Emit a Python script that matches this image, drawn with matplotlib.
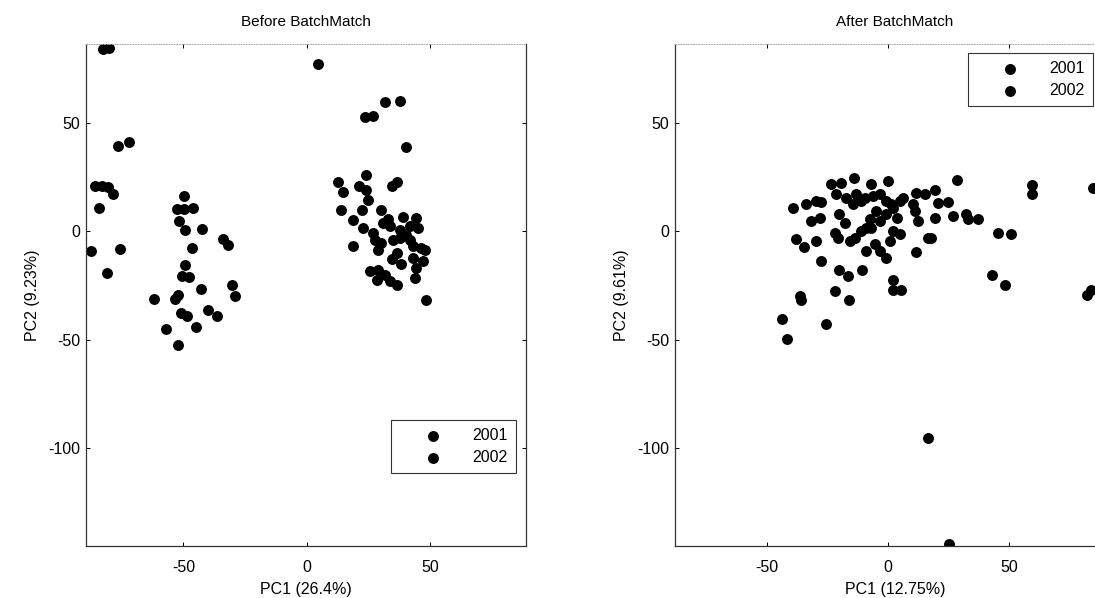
import matplotlib.pyplot as plt

plt.rcParams['font.family'] = ['Liberation Sans', 'DejaVu Sans']
plt.rcParams['axes.unicode_minus'] = False

# Before BatchMatch  (PC1, PC2)
before_2001_x = [-82.7, -80.0, -76.4, -71.9, -85.8, -83.1, -80.4, -78.6, -84.1, -87.6,
                 -75.7, -80.8, -49.7, -52.7, -49.7, -46.0, -51.6, -49.3, -42.3, -34.0,
                 -32.0, -46.4, -49.3, -50.7, -47.6, -42.8, -30.2, -29.1, -61.8, -53.4,
                 -52.0, -51.1, -48.4, -39.9, -36.2, -45.0, -57.2, -52.0]
before_2001_y = [84.0, 84.2, 39.4, 40.9, 20.6, 20.6, 20.4, 17.3, 10.7, -9.3,
                 -8.1, -19.3, 16.4, 10.4, 10.4, 10.7, 4.5, 0.4, 1.0, -3.6,
                 -6.2, -7.7, -15.4, -20.5, -21.1, -26.6, -24.7, -29.7, -31.1, -31.2,
                 -29.3, -37.7, -39.3, -36.2, -39.3, -44.3, -45.1, -52.3]

before_2002_x = [4.7, 32.0, 37.8, 23.6, 27.0, 40.3, 24.3, 12.8, 34.5, 36.5,
                 14.8, 21.3, 24.3, 25.0, 22.3, 13.9, 30.4, 18.9, 22.9, 39.2,
                 44.6, 31.1, 33.8, 37.8, 41.9, 45.2, 27.7, 30.4, 35.1, 37.8,
                 29.0, 36.5, 43.2, 46.6, 47.9, 43.2, 47.3, 18.9, 44.6, 25.7,
                 29.0, 31.7, 28.4, 33.8, 36.5, 43.9, 48.6, 33.0, 40.5, 27.0,
                 38.5, 42.0, 34.5]
before_2002_y = [77.1, 59.4, 59.7, 52.4, 52.9, 38.8, 26.0, 22.7, 21.0, 22.5,
                 18.1, 21.0, 19.1, 14.5, 9.9, 9.6, 9.9, 5.0, 1.5, 6.5,
                 6.1, 3.8, 2.2, 0.7, 2.2, 1.5, -3.9, -5.4, -3.9, -3.1,
                 -8.5, -10.0, -7.0, -7.7, -8.5, -12.4, -13.9, -7.0, -17.0, -18.5,
                 -17.7, -20.0, -22.4, -23.1, -24.7, -21.6, -31.6, 5.5, -2.0, -1.0,
                 -15.0, -4.0, -13.0]

# After BatchMatch
after_2001_x = [-43.6, -41.6, -25.5, -35.8, -16.1, -36.5, -22.0, -27.5, -20.2, -16.5,
                -10.6, -37.9, -34.8, -29.6, -39.3, -33.7, -29.6, -27.5, -31.7, -28.2,
                -22.0, -20.7, -20.2, -17.9, -23.4, -19.3, -14.2, -21.3, -17.2, -13.1,
                -14.5, -11.0, -15.8, -13.8, -11.0, -8.9, -9.6, -7.1]
after_2001_y = [-40.3, -49.5, -42.6, -31.5, -31.5, -29.7, -27.7, -13.8, -18.1, -20.8,
                -17.7, -3.4, -7.4, -4.6, 10.5, 12.3, 13.8, 13.5, 4.6, 5.9,
                -0.8, -3.1, 7.7, 3.8, 21.8, 22.3, 24.6, 16.9, 15.4, 16.9,
                12.3, 13.8, -4.6, -3.1, 0.0, -9.2, 15.4, 21.8]

after_2002_x = [2.1, 5.5, 2.1, 0.0, -6.2, -3.4, -0.7, 2.1, -4.8, -7.6,
                -6.9, -3.4, -5.5, -3.4, -0.7, 2.1, 4.8, 0.7, 3.5, -0.7,
                1.4, 4.8, 6.2, 11.7, 15.2, 10.3, 11.0, 12.4, 11.4, 16.5,
                28.5, 19.3, 20.7, 24.8, 19.3, 26.9, 32.4, 33.1, 37.2, 17.9,
                45.5, 50.7, 43.1, 48.2, 59.5, 59.5, 84.6, 82.0, 84.0, 16.3,
                25.0, -8.9]
after_2002_y = [-22.3, -26.9, -26.9, 23.1, 16.2, 16.9, 13.8, 10.8, 9.2, 5.4,
                1.5, 4.6, -6.1, -9.2, -12.3, 0.0, -1.5, -4.6, 6.1, 7.7,
                12.3, 13.8, 15.4, 17.7, 16.9, 12.3, 9.2, 4.6, -9.5, -3.1,
                23.5, 18.8, 13.1, 13.5, 6.1, 6.9, 7.7, 5.4, 5.4, -3.1,
                -0.8, -1.1, -20.0, -24.6, 21.2, 16.9, 20.0, -29.2, -26.9, -95.5,
                -144.0, 1.5]

years = ['2001', '2002']

fig = plt.figure(figsize=(10.95, 5.98), dpi=100)
ax1 = fig.add_axes([0.0785, 0.087, 0.4018, 0.8395])
ax2 = fig.add_axes([0.6164, 0.087, 0.4018, 0.8395])

panels = [
    (ax1, before_2001_x, before_2001_y, before_2002_x, before_2002_y,
     'Before BatchMatch', 'PC1 (26.4%)', 'PC2 (9.23%)', (-89.5, 89)),
    (ax2, after_2001_x, after_2001_y, after_2002_x, after_2002_y,
     'After BatchMatch', 'PC1 (12.75%)', 'PC2 (9.61%)', (-88, 93.7)),
]

for ax, x1, y1, x2, y2, title, xl, yl, xlim in panels:
    ax.scatter(x1, y1, s=62, c='black', linewidths=0, label=years[0])
    ax.scatter(x2, y2, s=62, c='black', linewidths=0, label=years[1])
    ax.set_xlim(xlim)
    ax.set_ylim(-145, 86.2)
    ax.set_xticks([-50, 0, 50])
    ax.set_yticks([-100, -50, 0, 50])
    ax.tick_params(direction='in', length=3, width=0.7, top=True, right=True,
                   labelsize=11.5, colors='black')
    ax.tick_params(axis='x', pad=10)
    ax.tick_params(axis='y', pad=4)
    ax.set_title(title, fontsize=11, pad=13)
    ax.set_xlabel(xl, fontsize=11.5, labelpad=5)
    ax.set_ylabel(yl, fontsize=11.5, labelpad=6)
    for side in ['left', 'right', 'bottom']:
        ax.spines[side].set_color('#333333')
        ax.spines[side].set_linewidth(0.9)
    ax.spines['top'].set_color('#aaaaaa')
    ax.spines['top'].set_linewidth(0.7)
    ax.spines['top'].set_linestyle(':')

leg_kw = dict(fontsize=11.5, frameon=True, fancybox=False, framealpha=1,
              handlelength=4.3, handletextpad=0.3, borderpad=0.5,
              labelspacing=0.45, borderaxespad=0, scatterpoints=1)
lg1 = ax1.legend(loc='lower right', bbox_to_anchor=(0.977, 0.145), **leg_kw)
lg2 = ax2.legend(loc='upper left', bbox_to_anchor=(0.666, 0.982), **leg_kw)
for lg in (lg1, lg2):
    lg.get_frame().set_edgecolor('#333333')
    lg.get_frame().set_linewidth(0.8)

fig.savefig('out.png', dpi=100)
